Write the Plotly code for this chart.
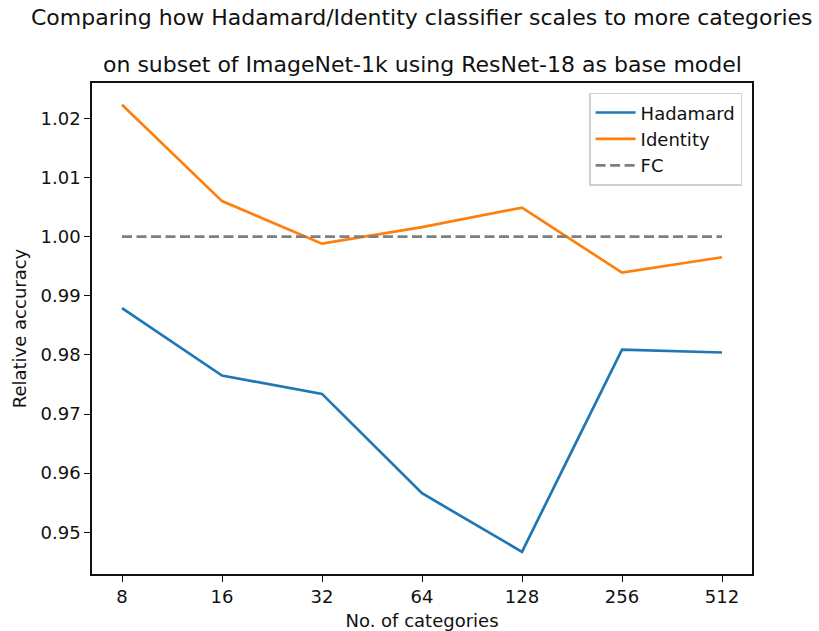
import plotly.graph_objects as go

categories = ["8", "16", "32", "64", "128", "256", "512"]
hadamard = [0.9879, 0.9765, 0.9734, 0.9566, 0.9467, 0.9809, 0.9804]
identity = [1.0223, 1.0060, 0.9988, 1.0016, 1.0049, 0.9939, 0.9965]
fc = [1.0, 1.0, 1.0, 1.0, 1.0, 1.0, 1.0]
y_ticks = [0.95, 0.96, 0.97, 0.98, 0.99, 1.00, 1.01, 1.02]
y_tick_labels = ["0.95", "0.96", "0.97", "0.98", "0.99", "1.00", "1.01", "1.02"]

FONT = "DejaVu Sans"
xs = list(range(len(categories)))

fig = go.Figure()
fig.add_trace(go.Scatter(x=xs, y=hadamard, mode="lines", name="Hadamard", legendgroup="a",
                         line=dict(color="#1f77b4", width=2.7)))
fig.add_trace(go.Scatter(x=xs, y=identity, mode="lines", name="Identity", legendgroup="b",
                         line=dict(color="#ff7f0e", width=2.7)))
fig.add_trace(go.Scatter(x=xs, y=fc, mode="lines", name="FC", legendgroup="c",
                         line=dict(color="#7f7f7f", width=2.7, dash="10px,4.5px")))

fig.update_layout(
    width=819, height=631,
    margin=dict(l=92, r=67, t=83, b=57, autoexpand=False),
    paper_bgcolor="white", plot_bgcolor="white",
    font=dict(family=FONT, size=18, color="#111"),
    showlegend=True,
    legend=dict(x=0.985, y=0.98, xanchor="right", yanchor="top",
                bgcolor="rgba(255,255,255,0.8)", bordercolor="#d0d0d0", borderwidth=1.5,
                font=dict(family=FONT, size=18, color="#111"),
                traceorder="grouped", tracegroupgap=0, itemwidth=40),
    xaxis=dict(range=[-0.3, 6.3], tickmode="array", tickvals=xs, ticktext=categories,
               showline=True, linecolor="#111", linewidth=1.5, mirror=True,
               ticks="outside", ticklen=6, tickwidth=1.4, tickcolor="#111",
               showgrid=False, zeroline=False, automargin=False,
               title=dict(text="No. of categories", font=dict(size=18), standoff=8),
               tickfont=dict(size=18)),
    yaxis=dict(range=[0.94295, 1.02597], tickmode="array",
               tickvals=y_ticks, ticktext=y_tick_labels,
               showline=True, linecolor="#111", linewidth=1.5, mirror=True,
               ticks="outside", ticklen=6, tickwidth=1.4, tickcolor="#111",
               showgrid=False, zeroline=False, automargin=False,
               title=dict(text="Relative accuracy", font=dict(size=18), standoff=9),
               tickfont=dict(size=18)),
    annotations=[
        dict(text="Comparing how Hadamard/Identity classifier scales to more categories",
             xref="paper", yref="paper", x=0.5, y=1.0, yshift=66, showarrow=False,
             xanchor="center", yanchor="middle", font=dict(family=FONT, size=22, color="#111")),
        dict(text="on subset of ImageNet-1k using ResNet-18 as base model",
             xref="paper", yref="paper", x=0.5, y=1.0, yshift=19, showarrow=False,
             xanchor="center", yanchor="middle", font=dict(family=FONT, size=22, color="#111")),
    ],
)

fig.write_html("out.html", config={"displayModeBar": False},
               post_script="document.body.style.margin='0px';document.body.style.overflow='hidden';")
